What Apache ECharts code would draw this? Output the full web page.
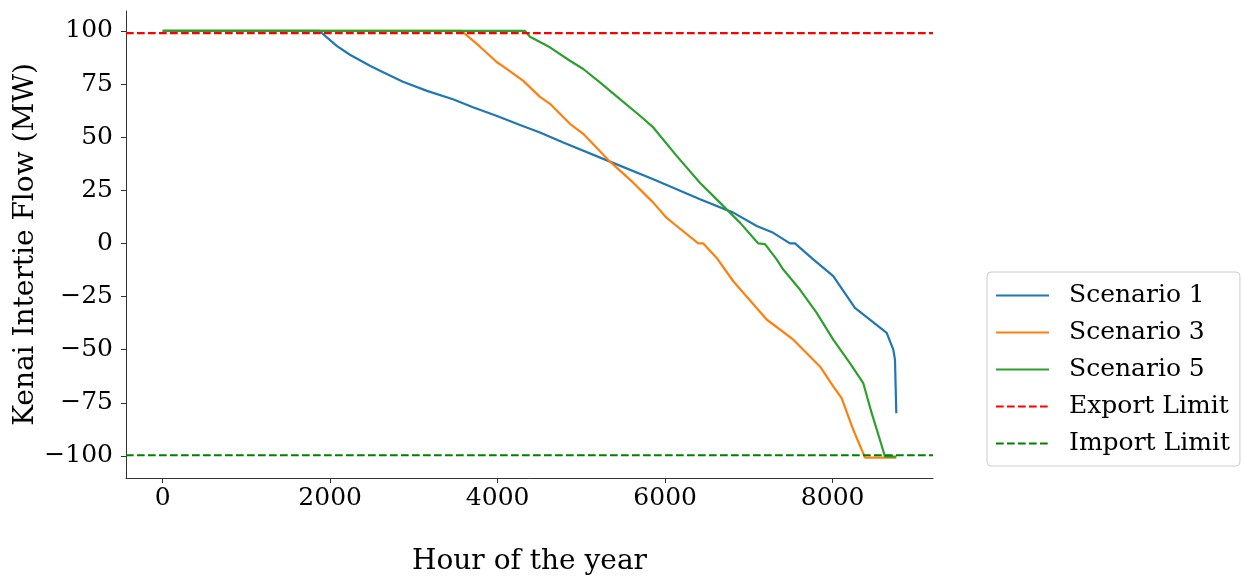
<!DOCTYPE html>
<html>
<head>
<meta charset="utf-8">
<script src="https://cdn.jsdelivr.net/npm/echarts@6/dist/echarts.min.js"></script>
<style>
html,body{margin:0;padding:0;background:#fff;}
#chart{width:1243px;height:581px;}
</style>
</head>
<body>
<div id="chart"></div>
<script>
// Hour of the year (x) and flow in MW (y)
const scenario1 = [[0,100],[1872,100],[2078,93],[2236,88.8],[2475,83.6],[2595,81.3],[2869,76.1],[3156,71.8],[3466,67.9],[3705,64.1],[3992,60.0],[4267,55.7],[4505,52.2],[4783,47.5],[5341,38.5],[5858,30.2],[6416,20.8],[6813,14.5],[7093,8.2],[7291,5.0],[7490,0],[7550,0],[7768,-7.5],[8007,-15.4],[8266,-30.3],[8645,-42.1],[8724,-50],[8744,-54.7],[8760,-79.9]];
const scenario3 = [[0,100],[3570,100],[3789,92.6],[3988,85.4],[4107,82.2],[4306,76.5],[4505,69],[4625,65.7],[4863,56.3],[5022,51.6],[5341,38.5],[5619,28.6],[5858,19.2],[6018,12],[6137,8.2],[6395,0],[6455,0],[6615,-6.8],[6813,-17.8],[7212,-35.8],[7530,-45.3],[7848,-57.9],[8007,-67.3],[8107,-72.8],[8246,-87.7],[8386,-100.8],[8760,-100.8]];
const scenario5 = [[0,100],[4326,100],[4386,97.3],[4624,92.3],[4863,86],[5022,82.1],[5221,75.8],[5460,67.9],[5699,60.1],[5858,54.6],[6137,41.2],[6415,28.6],[6654,19.2],[6893,9.8],[7112,0],[7192,-0.3],[7331,-7.5],[7410,-12.3],[7609,-21.7],[7809,-32.7],[8007,-45.3],[8206,-56.3],[8365,-65.7],[8466,-79.9],[8565,-92.5],[8624,-100.3],[8760,-100.3]];
const exportLimit = 99;
const importLimit = -99.7;
const xTicks = [0,2000,4000,6000,8000];
const yTicks = [-100,-75,-50,-25,0,25,50,75,100];
const xMin = -438, xMax = 9198;
const yMin = -110.4, yMax = 109.4;

const font = 'DejaVu Serif';
const chart = echarts.init(document.getElementById('chart'), null, {renderer:'canvas'});
const fmt = v => (v < 0 ? '\u2212' + Math.abs(v) : String(v));
const dash = [7.7, 3.3];

chart.setOption({
  animation: false,
  backgroundColor: '#ffffff',
  grid: {left:126, right:310, top:11, bottom:103, containLabel:false, outerBoundsMode:'none'},
  xAxis: {
    type:'value', min:xMin, max:xMax,
    name:'Hour of the year', nameLocation:'middle', nameGap:70, nameMoveOverlap:false,
    nameTextStyle:{fontFamily:font, fontSize:28, color:'#000'},
    axisLine:{show:true, onZero:false, lineStyle:{color:'#333', width:1}},
    axisTick:{show:true, length:5, lineStyle:{color:'#333'}, customValues:xTicks},
    axisLabel:{fontFamily:font, fontSize:25, color:'#000', margin:8, customValues:xTicks, formatter:fmt},
    splitLine:{show:false}
  },
  yAxis: {
    type:'value', min:yMin, max:yMax,
    name:'Kenai Intertie Flow (MW)', nameLocation:'middle', nameGap:86, nameRotate:90, nameMoveOverlap:false,
    nameTextStyle:{fontFamily:font, fontSize:28, color:'#000'},
    axisLine:{show:true, onZero:false, lineStyle:{color:'#333', width:1}},
    axisTick:{show:true, length:5, lineStyle:{color:'#333'}, customValues:yTicks},
    axisLabel:{fontFamily:font, fontSize:25, color:'#000', margin:13, customValues:yTicks, formatter:fmt},
    splitLine:{show:false}
  },
  legend: {
    orient:'vertical', left:987, top:272, align:'left',
    itemWidth:53, itemHeight:21, itemGap:12,
    padding:[11,10,10,8],
    borderColor:'#cccccc', borderWidth:1, borderRadius:4,
    backgroundColor:'rgba(255,255,255,0.8)',
    selectedMode:false,
    itemStyle:{opacity:0},
    textStyle:{fontFamily:font, fontSize:25, color:'#000', lineHeight:25, padding:[0,0,0,15]},
    data:['Scenario 1','Scenario 3','Scenario 5','Export Limit','Import Limit']
  },
  series: [
    {name:'Scenario 1', type:'line', data:scenario1, symbol:'none', lineStyle:{color:'#1f77b4', width:2.2}, itemStyle:{color:'#1f77b4'}},
    {name:'Scenario 3', type:'line', data:scenario3, symbol:'none', lineStyle:{color:'#ff7f0e', width:2.2}, itemStyle:{color:'#ff7f0e'}},
    {name:'Scenario 5', type:'line', data:scenario5, symbol:'none', lineStyle:{color:'#2ca02c', width:2.2}, itemStyle:{color:'#2ca02c'}},
    {name:'Export Limit', type:'line', data:[[xMin,exportLimit],[xMax,exportLimit]], symbol:'none', lineStyle:{color:'#ff0000', width:2.2, type:dash}, itemStyle:{color:'#ff0000'}},
    {name:'Import Limit', type:'line', data:[[xMin,importLimit],[xMax,importLimit]], symbol:'none', lineStyle:{color:'#008000', width:2.2, type:dash}, itemStyle:{color:'#008000'}}
  ]
});
</script>
</body>
</html>
